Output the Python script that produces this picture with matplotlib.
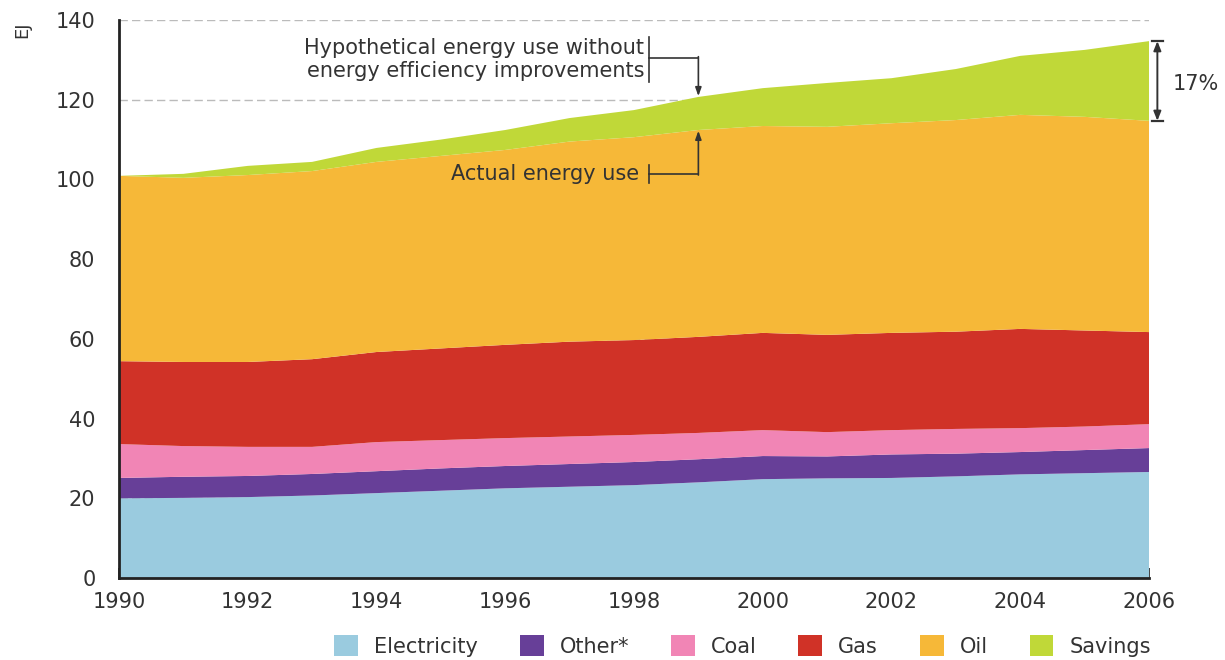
import matplotlib
matplotlib.use("Agg")
import matplotlib.pyplot as plt
from matplotlib.patches import Patch

years = list(range(1990, 2007))
electricity = [20.0, 20.1, 20.3, 20.7, 21.3, 21.9, 22.5, 22.9, 23.3, 24.0, 24.8, 25.0, 25.1, 25.5, 26.0, 26.3, 26.6]
other = [5.1, 5.3, 5.3, 5.4, 5.5, 5.6, 5.6, 5.7, 5.8, 5.8, 5.8, 5.5, 5.9, 5.7, 5.6, 5.8, 6.0]
coal = [8.5, 7.7, 7.3, 6.8, 7.3, 7.1, 7.0, 6.9, 6.8, 6.6, 6.5, 6.1, 6.1, 6.2, 6.0, 5.9, 6.0]
gas = [20.8, 21.1, 21.3, 22.0, 22.6, 23.0, 23.4, 23.8, 23.8, 24.1, 24.4, 24.4, 24.4, 24.4, 24.9, 24.1, 23.1]
oil = [46.5, 46.2, 46.9, 47.2, 47.7, 48.3, 48.9, 50.2, 50.9, 51.9, 51.9, 52.2, 52.6, 53.1, 53.7, 53.6, 53.0]
savings = [0.0, 1.0, 2.3, 2.3, 3.5, 4.1, 5.0, 5.9, 6.8, 8.3, 9.5, 11.0, 11.3, 12.8, 14.8, 16.8, 20.0]

labels = ["Electricity", "Other*", "Coal", "Gas", "Oil", "Savings"]
colors = ["#9ACBDF", "#673F98", "#F185B5", "#D03227", "#F6B838", "#C0D838"]
yticks = [0, 20, 40, 60, 80, 100, 120, 140]
xticks = list(range(1990, 2007, 2))

TXT = "#333333"
FS = 15

fig = plt.figure(figsize=(12.25, 6.6), dpi=100)
ax = fig.add_axes([119/1225, 1-578/660, (1149-119)/1225, (578-20)/660])

ax.stackplot(years, electricity, other, coal, gas, oil, savings,
             colors=colors, linewidth=0, zorder=2)

ax.set_xlim(1990, 2006)
ax.set_ylim(0, 140)
ax.set_yticks(yticks)
ax.set_xticks(xticks)
ax.set_axisbelow(True)
ax.grid(axis="y", color="#BBBBBB", linestyle=(0, (6, 3)), linewidth=1.0, zorder=0)
for s in ["top", "right"]:
    ax.spines[s].set_visible(False)
for s in ["left", "bottom"]:
    ax.spines[s].set_color("#222222")
    ax.spines[s].set_linewidth(2.0)
    ax.spines[s].set_zorder(5)
ax.tick_params(axis="y", length=0, pad=17, labelsize=FS, labelcolor=TXT)
ax.tick_params(axis="x", direction="in", length=7, width=1.2, color="#222222",
               pad=10, labelsize=FS, labelcolor=TXT)

fig.text(22/1225, 1-30/660, "EJ", rotation=90, ha="center", va="center",
         fontsize=FS-2, color=TXT)

# Annotations
lc = "#333333"
xb = 1998.24
xa = 1999.0
# hypothetical
ax.plot([xb, xb], [124.4, 135.7], color=lc, lw=1.2, zorder=6, clip_on=False)
ax.plot([xb, xa], [130.5, 130.5], color=lc, lw=1.2, zorder=6, clip_on=False)
ax.annotate("", xy=(xa, 120.9), xytext=(xa, 130.8),
            arrowprops=dict(arrowstyle="-|>,head_length=0.5,head_width=0.18",
                            color=lc, lw=1.2, shrinkA=0, shrinkB=0), zorder=6)
ax.text(1998.16, 130.0, "Hypothetical energy use without\nenergy efficiency improvements",
        ha="right", va="center", fontsize=FS, color=TXT, linespacing=1.2, zorder=6)
# actual
ax.plot([xb, xb], [99.1, 103.6], color=lc, lw=1.2, zorder=6)
ax.plot([xb, xa], [101.4, 101.4], color=lc, lw=1.2, zorder=6)
ax.annotate("", xy=(xa, 112.2), xytext=(xa, 101.1),
            arrowprops=dict(arrowstyle="-|>,head_length=0.5,head_width=0.18",
                            color=lc, lw=1.2, shrinkA=0, shrinkB=0), zorder=6)
ax.text(1998.08, 101.4, "Actual energy use", ha="right", va="center",
        fontsize=FS, color=TXT, zorder=6)

# 17% arrow
x17 = 2006.13
top = sum(v[-1] for v in [electricity, other, coal, gas, oil, savings])
act = top - savings[-1]
ax.annotate("", xy=(x17, top), xytext=(x17, act),
            arrowprops=dict(arrowstyle="<|-|>,head_length=0.55,head_width=0.22",
                            color=lc, lw=1.4, shrinkA=0, shrinkB=0),
            annotation_clip=False, zorder=6)
for yv in (top, act):
    ax.plot([x17 - 0.09, x17 + 0.09], [yv, yv], color=lc, lw=1.6, clip_on=False, zorder=6)
ax.text(2006.37, 124.0, "17%", ha="left", va="center", fontsize=FS, color=TXT,
        clip_on=False)

handles = [Patch(facecolor=c, edgecolor="none", label=l) for c, l in zip(colors, labels)]
fig.legend(handles=handles, loc="center right", bbox_to_anchor=(1151/1225, 1-646/660),
           ncol=6, frameon=False, fontsize=FS, handlelength=1.15, handleheight=1.15,
           handletextpad=0.77, columnspacing=2.0, labelcolor=TXT, borderaxespad=0,
           borderpad=0)

fig.savefig("out.png", dpi=100)
